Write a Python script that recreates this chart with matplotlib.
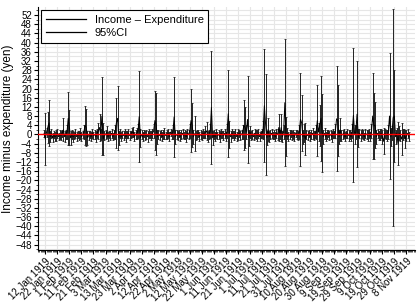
import numpy as np
import pandas as pd
import matplotlib
matplotlib.use('Agg')
import matplotlib.pyplot as plt
import matplotlib.dates as mdates
from matplotlib.lines import Line2D
from matplotlib.ticker import MultipleLocator

plt.rcParams['font.family'] = ['Liberation Sans', 'DejaVu Sans']

# daily income minus expenditure (yen) and 95% CI half-width, 11 Jan - 10 Nov 1919
diff_jan = [0.5, -2, 1, 3, 5, -1, 0.5, -1.5, 0, -1, -0.5, 0.5, -1, 0, -0.5, 0.5, 2, -1, 0, 1, 7]
ci_jan = [1.5, 11.5, 2, 6.6, 10, 2.5, 2, 2, 1.5, 2, 2.5, 2, 1.5, 2, 2, 1.5, 5, 2.5, 2, 3, 11.5]
diff_feb = [3, -1.5, 0, -1, -0.5, 0.5, -1, 0, -0.5, 0.5, -1, 0, 1, 4, 3, -1.5, -0.5, 0, -1, 0.5,
            -0.5, 0, -1, 0.5, 1.5, 3, 0, 8]
ci_feb = [7.5, 3, 2, 2.5, 1.5, 2, 2, 1.5, 2, 2.5, 2, 1.5, 3, 8.5, 8, 3, 2, 1.5, 2, 2,
          1.5, 2, 2.5, 2, 3.3, 6, 2.5, 17]
diff_mar = [-2, -0.5, 0, 1, -1, 0, -0.5, 0.5, -1, 0, 1, 5, 7, -1.5, 0.5, -1, 0, -0.5, 0.5, -1,
            0, 0.5, -0.5, 0, 1, 1, -1, 0, 0.5, 1.5, 7.7]
ci_mar = [7, 2, 2, 2.5, 2, 1.5, 2, 2, 1.5, 2, 3, 11, 14, 3, 2, 2, 1.5, 2, 2, 2.5,
          1.5, 2, 2, 1.5, 2, 2.2, 2, 2, 2.5, 3, 19.8]
diff_apr = [-1.5, 0, -1, 0.5, -0.5, 0, -1, 0.5, 0, -0.5, 0.5, 1.5, 6, 4.4, -1, 0, -0.5, 0.5, -1, 0,
            0.5, -0.5, 0, 0.5, -1, 1, 0, 1, 7.6, -1]
ci_apr = [4, 2, 2, 1.5, 2, 2, 2.5, 2, 1.5, 2, 2, 3, 13, 13.5, 3, 2, 2, 1.5, 2, 2,
          2.5, 1.5, 2, 2, 2, 1.5, 2, 3, 17.3, 3]
diff_may = [0, -0.5, 0.5, -1, 0, 0.5, -0.5, 0, -1, 0.5, 0, 1.5, 6, 4, -1, 0.3, -0.5, 0, 0.5, -1,
            0, -0.5, 0.5, 0, 1, 1.5, -1, 0, 1.5, 11.7, -1.5]
ci_may = [2, 2, 1.5, 2, 2, 2, 1.5, 2, 2.5, 2, 2, 3, 13.7, 9.5, 3, 7.6, 2, 2, 1.5, 2,
          2, 2, 2, 1.5, 2.5, 4, 2.5, 2, 3, 24.7, 3]
diff_jun = [0, -1, 0.5, -0.5, 0, -1, 0.5, 0, -0.5, 0.5, -1, 1.5, 9, 0, -1, 0.5, 0, -0.5, 0.5, -1,
            0, 0.5, -0.5, 0, 1, 4, 3, 1, 6.5, -1.5]
ci_jun = [2, 2, 2, 1.5, 2, 2.5, 2, 1.5, 2, 2, 2, 3, 19, 6, 2.5, 2, 1.5, 2, 2, 2,
          2.5, 1.5, 2, 2, 3, 11, 9, 3, 19, 3.5]
diff_jul = [1, -0.5, 0, -1, 0.5, 0, -0.5, 0.5, -1, 0, 0.5, 2, 12.5, 4.5, -1.5, 2, -1, 0, 0.5, -0.5,
            0, -1, 0.5, 0, 3, 0, 3, -1, 1, 13.8, -1]
ci_jul = [2.5, 2, 2, 1.5, 2, 2, 2.5, 2, 2, 1.5, 2, 4, 24.5, 22, 3, 5, 2.5, 2, 2, 1.5,
          2, 2, 2, 2.5, 5.7, 2, 5.7, 2.5, 3, 27.7, 8.5]
diff_aug = [0.5, -1, 0, 0.5, -0.5, 0, -1, 0.5, 0, -0.5, 1, 6.6, 5, -1, 0.5, -2, 0, -0.5, 0.5, -1,
            0, 0.5, -0.5, 0, 1, 6, 1, 4, 7, 0.8, -1]
ci_aug = [2.5, 2, 2, 1.5, 2, 2, 2, 1.5, 2, 2, 3, 20.2, 12.3, 3, 4, 7, 2, 2, 1.5, 2,
          2, 2.5, 2, 1.5, 3, 15.4, 4, 9, 18.4, 17, 3]
diff_sep = [0.5, -1, 0, 0.5, -0.5, 0, -1, 0.5, 0, 1.5, 6.8, 6, -1, 2, -0.5, 0, 0.5, -1, 0, 0.5,
            -0.5, 0, -1, 1.5, 8.3, 0, 1, 8.8, -1.5, 0.5]
ci_sep = [2.5, 2, 2, 1.5, 2, 2, 2.5, 2, 1.5, 3, 22.9, 15.4, 3, 5, 2.5, 2, 2, 2, 1.5, 2,
          2.5, 2, 2, 3, 29.2, 4, 3, 23.1, 4, 2]
diff_oct = [-0.5, 0.5, 0, -1, 0.5, 0, -0.5, 0.5, -1, 1.5, 8, 3.7, 4, -1, 0.5, -0.5, 0, 0.5, -1, -3,
            0.5, 0, -0.5, 1, 8, -1, 0.5, 7.3, 8, -1, 0.5]
ci_oct = [2.5, 2, 2, 1.5, 2, 2, 2.5, 2, 2, 3, 18.8, 14.3, 10, 3, 2, 2, 2.5, 2, 3, 5.7,
          2, 2, 2.5, 3, 27.3, 4, 3, 47.2, 20, 3, 2.5]
diff_nov = [-4, 0.5, -0.5, -2, 0, 0.5, -2, -0.5, 0.5, -1]
ci_nov = [9.5, 3, 2.5, 6.8, 2.5, 2, 4, 2.5, 2, 2]

diff = np.array(diff_jan + diff_feb + diff_mar + diff_apr + diff_may + diff_jun
                + diff_jul + diff_aug + diff_sep + diff_oct + diff_nov)
ci = np.array(ci_jan + ci_feb + ci_mar + ci_apr + ci_may + ci_jun
              + ci_jul + ci_aug + ci_sep + ci_oct + ci_nov)
dates = pd.date_range('1919-01-11', periods=len(diff), freq='D')
tick_dates = pd.date_range('1919-01-12', '1919-11-08', freq='10D')

fig = plt.figure(figsize=(4.19, 3.05), dpi=100)
ax = fig.add_axes([0.091, 0.18, 0.899, 0.797])

ax.errorbar(dates, diff, yerr=ci, fmt='none', ecolor='#222222', elinewidth=0.7,
            capsize=1.0, capthick=0.6, zorder=3)
ax.plot(dates, diff, color='black', lw=0.7, zorder=4)
ax.axhline(0, color='red', lw=1.0, zorder=5)

ax.set_xlim(pd.Timestamp('1919-01-06'), pd.Timestamp('1919-11-15'))
ax.set_ylim(-50.4, 55.5)
ax.set_xticks(tick_dates)
ax.xaxis.set_major_formatter(mdates.DateFormatter('%-d %b %Y'))
ax.xaxis.set_minor_locator(mdates.DayLocator())
ax.yaxis.set_major_locator(MultipleLocator(4))
ax.yaxis.set_minor_locator(MultipleLocator(2))

ax.set_axisbelow(True)
ax.grid(which='major', color='#e6e6e6', lw=0.8)
ax.yaxis.grid(which='minor', color='#e6e6e6', lw=0.8)
for s in ['top', 'right']:
    ax.spines[s].set_visible(False)
ax.tick_params(which='major', length=3, width=0.8, labelsize=7, pad=1.5)
ax.tick_params(which='minor', length=1.5, width=0.5)
plt.setp(ax.get_xticklabels(), rotation=45, ha='right', rotation_mode='anchor')
ax.set_ylabel('Income minus expenditure (yen)', fontsize=8.5, labelpad=1)

handles = [Line2D([], [], color='black', lw=0.9), Line2D([], [], color='black', lw=0.9)]
leg = ax.legend(handles, ['Income \u2013 Expenditure', '95%CI'], loc='upper left',
                fontsize=8, handlelength=3.6, fancybox=False, framealpha=1,
                edgecolor='black', borderaxespad=0.3, borderpad=0.4, labelspacing=0.3)
leg.get_frame().set_linewidth(0.8)

fig.savefig('out.png', dpi=100)
